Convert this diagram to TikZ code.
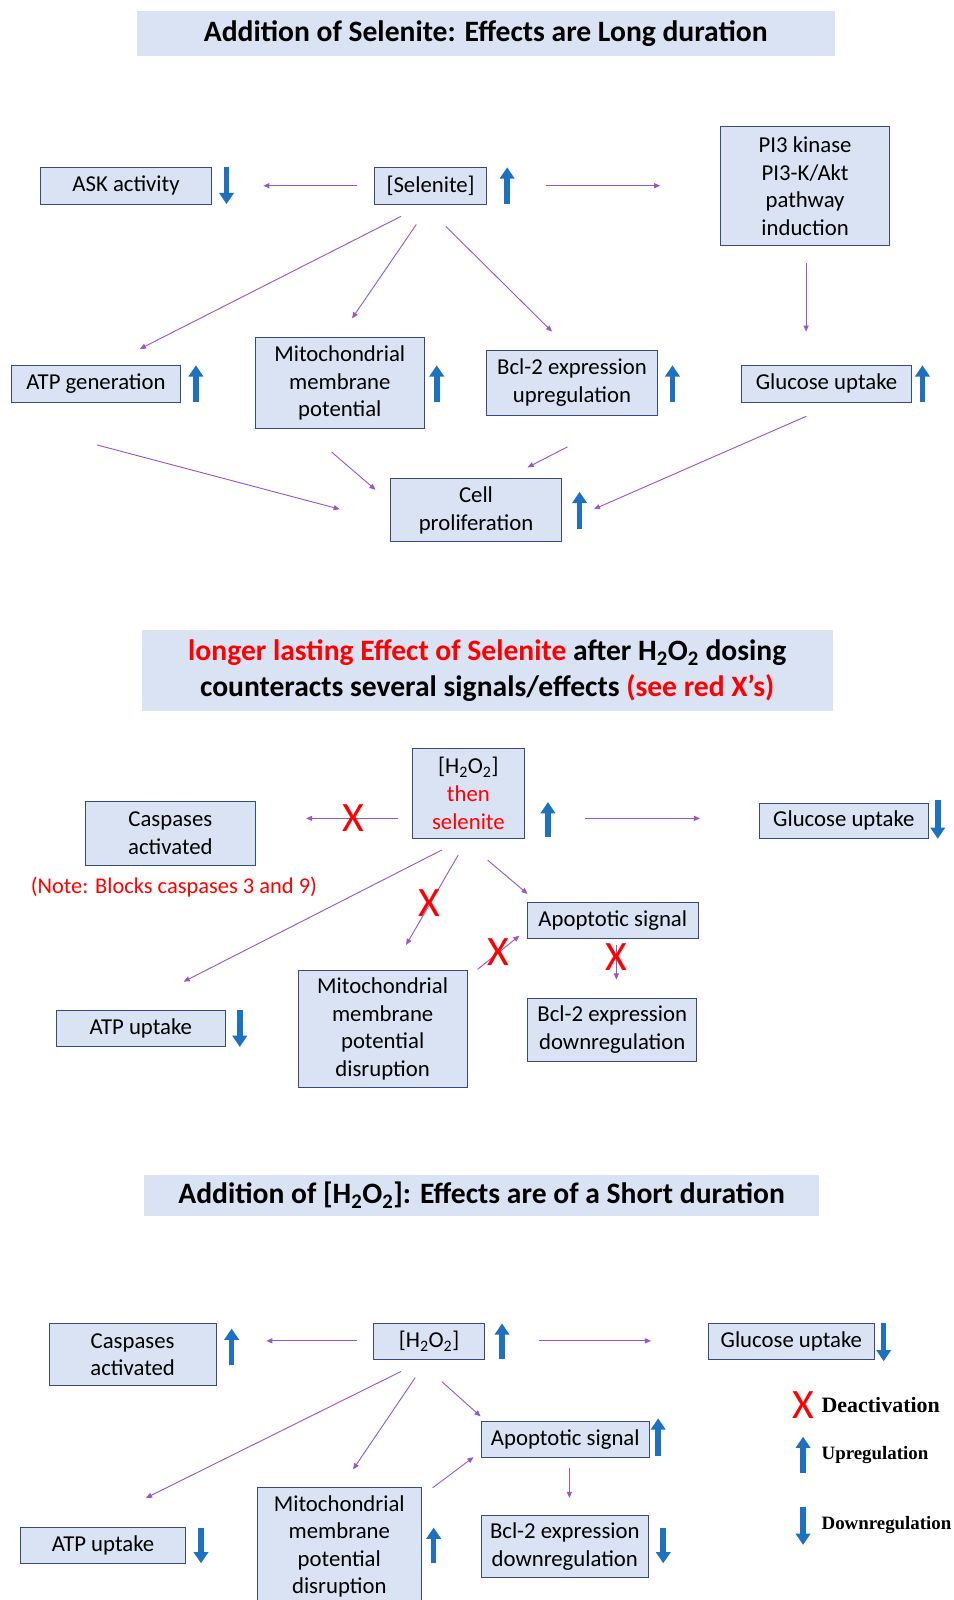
\documentclass[tikz,border=0pt]{standalone}
\usepackage{fontspec}
\setmainfont{Carlito}
\newfontfamily\legfont{Liberation Serif}
\usetikzlibrary{arrows.meta}
\definecolor{boxf}{RGB}{218,227,243}
\definecolor{boxd}{RGB}{55,75,125}
\definecolor{connc}{RGB}{155,85,200}
\definecolor{upc}{RGB}{30,112,192}
\definecolor{redx}{RGB}{255,0,0}
\newcommand\bxf{\fontsize{22.3}{27}\selectfont}
\newcommand\ttf{\fontsize{29}{35}\selectfont\bfseries}
\newcommand\boxat[6]{\node[box,minimum width={#4-#2},minimum height={#5-#3}] (#1) at ({(#2+#4)/2},{(#3+#5)/2}) {#6};}
\newcommand\titleat[6]{\node[tbox,minimum width={#4-#2},minimum height={#5-#3}] (#1) at ({(#2+#4)/2},{(#3+#5)/2}) {#6};}
\newcommand\upar[3]{\draw[blu] (#1,#3) -- (#1,#2);}
\newcommand\dnar[3]{\draw[blu] (#1,#2) -- (#1,#3);}
\newcommand\conn[5]{\coordinate (#1a) at (#2,#3); \coordinate (#1b) at (#4,#5); \draw[cn] (#1a) -- (#1b);}
\newcommand\HtwoO{H\textsubscript{2}O\textsubscript{2}}
\begin{document}
\begin{tikzpicture}[x=1pt,y=-1pt,
  box/.style={draw=boxd,fill=boxf,line width=0.9pt,align=center,inner sep=0pt,font=\bxf},
  tbox/.style={fill=boxf,align=center,inner sep=0pt,font=\ttf},
  blu/.style={draw=upc,line width=5.5pt,-{Triangle[length=11pt,width=14pt]}},
  cn/.style={draw=connc,line width=0.9pt,-{Triangle[length=6pt,width=5pt]}},
  redX/.style={text=redx,font=\fontsize{41}{41}\selectfont,inner sep=0pt},
]
\useasboundingbox (0,0) rectangle (934,1568);
\fill[white] (0,0) rectangle (934,1568);

% ---------------- Section 1 ----------------
\titleat{t1}{134}{11}{818}{55}{Addition of Selenite: Effects are Long duration}
\boxat{ask}{40}{164}{207}{200}{ASK activity}
\boxat{sel}{367}{164}{477}{200}{[Selenite]}
\boxat{pi3}{706}{124}{872}{241}{PI3 kinase\\PI3-K/Akt\\pathway\\induction}
\boxat{atp}{11}{358}{177}{394}{ATP generation}
\boxat{mito}{250}{331}{416}{420}{Mitochondrial\\membrane\\potential}
\boxat{bcl}{477}{343}{644}{407}{Bcl-2 expression\\upregulation}
\boxat{glu}{727}{358}{893}{394}{Glucose uptake}
\boxat{cell}{383}{469}{550}{531}{Cell\\proliferation}

\dnar{222}{164}{200}
\upar{497}{164}{200}
\upar{192}{358}{394}
\upar{428}{358}{394}
\upar{659}{358}{394}
\upar{904}{358}{394}
\upar{568}{482}{518}

\conn{c1}{350}{182}{258}{182}
\conn{c2}{535}{182}{647}{182}
\conn{c3}{790}{258}{790}{325}
\conn{c4}{393}{212}{137}{342}
\conn{c5}{408}{220}{345}{312}
\conn{c6}{437}{222}{541}{325}
\conn{c7}{95}{436}{333}{499}
\conn{c8}{325}{443}{368}{480}
\conn{c9}{556}{438}{517}{458}
\conn{c10}{790}{408}{582}{499}

% ---------------- Section 2 ----------------
\titleat{t2}{139}{617}{816}{697}{\textcolor{redx}{longer lasting Effect of Selenite} after \HtwoO{} dosing\\counteracts several signals/effects \textcolor{redx}{(see red X’s)}}
\boxat{hs}{404}{733}{514}{822}{[\HtwoO]\\\textcolor{redx}{then}\\\textcolor{redx}{selenite}}
\boxat{casp2}{84}{785}{250}{848}{Caspases\\activated}
\boxat{glu2}{744}{787}{910}{822}{Glucose uptake}
\node[text=redx,font=\fontsize{22}{24}\selectfont,anchor=west,inner sep=0pt] (note) at (30,869) {(Note: Blocks caspases 3 and 9)};
\boxat{apo2}{517}{884}{684}{920}{Apoptotic signal}
\boxat{atp2}{55}{990}{221}{1026}{ATP uptake}
\boxat{mito2}{292}{951}{458}{1066}{Mitochondrial\\membrane\\potential\\disruption}
\boxat{bcl2}{517}{978}{683}{1040}{Bcl-2 expression\\downregulation}

\upar{537}{786}{820}
\dnar{919}{784}{822}
\dnar{235}{990}{1026}

\conn{d1}{390}{802}{300}{802}
\conn{d2}{573}{802}{686}{802}
\conn{d3}{433}{833}{180}{962}
\conn{d4}{449}{838}{398}{926}
\conn{d5}{478}{843}{517}{876}
\conn{d6}{468}{950}{509}{917}
\conn{d7}{604}{926}{604}{960}
\node[redX] (x1) at (346,802) {X};
\node[redX] (x2) at (421,885) {X};
\node[redX] (x3) at (488,933) {X};
\node[redX] (x4) at (604,938) {X};

% ---------------- Section 3 ----------------
\titleat{t3}{141}{1151}{803}{1192}{Addition of [\HtwoO]: Effects are of a Short duration}
\boxat{casp3}{48}{1297}{212}{1358}{Caspases\\activated}
\boxat{h3}{366}{1297}{475}{1332}{[\HtwoO]}
\boxat{glu3}{694}{1297}{857}{1332}{Glucose uptake}
\boxat{apo3}{472}{1393}{636}{1428}{Apoptotic signal}
\boxat{atp3}{20}{1497}{182}{1532}{ATP uptake}
\boxat{mito3}{252}{1458}{413}{1573}{Mitochondrial\\membrane\\potential\\disruption}
\boxat{bcl3}{472}{1485}{635}{1546}{Bcl-2 expression\\downregulation}

\upar{227}{1302}{1338}
\upar{492}{1297}{1332}
\dnar{866}{1297}{1334}
\upar{645}{1390}{1427}
\dnar{197}{1497}{1532}
\upar{425}{1497}{1532}
\dnar{650}{1497}{1532}

\conn{e1}{350}{1314}{261}{1314}
\conn{e2}{528}{1314}{638}{1314}
\conn{e3}{393}{1344}{143}{1468}
\conn{e4}{407}{1350}{346}{1440}
\conn{e5}{433}{1354}{471}{1388}
\conn{e6}{424}{1458}{464}{1428}
\conn{e7}{558}{1439}{558}{1468}

% ---------------- Legend ----------------
\node[redX] (lx) at (787,1377) {X};
\node[anchor=west,inner sep=0pt,font=\legfont\bfseries\fontsize{21.5}{24}\selectfont] (ldeact) at (805,1377) {Deactivation};
\upar{787}{1408}{1444}
\node[anchor=west,inner sep=0pt,font=\legfont\bfseries\fontsize{18.5}{20}\selectfont] (lup) at (805,1426) {Upregulation};
\dnar{787}{1477}{1514}
\node[anchor=west,inner sep=0pt,font=\legfont\bfseries\fontsize{18.5}{20}\selectfont] (ldown) at (805,1495) {Downregulation};
\end{tikzpicture}
\end{document}
